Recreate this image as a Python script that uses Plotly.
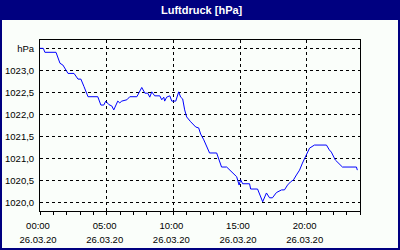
import plotly.graph_objects as go

DAY = "2020-03-26"
NEXT_DAY = "2020-03-27"

times = ["00:00", "00:15", "00:22", "01:12", "01:30", "01:43", "02:06", "02:33", "02:51", "03:04",
         "03:18", "03:36", "04:20", "04:34", "04:47", "04:56", "05:10", "05:23", "05:32", "05:50",
         "05:59", "06:08", "06:31", "06:44", "07:16", "07:38", "07:52", "08:05", "08:14", "08:23",
         "08:36", "08:59", "09:08", "09:17", "09:21", "09:30", "09:44", "09:53", "10:11", "10:24",
         "10:33", "10:42", "10:51", "11:00", "11:18", "11:41", "11:54", "12:03", "12:17", "12:43",
         "13:15", "13:37", "14:00", "14:22", "14:45", "14:56", "15:03", "15:12", "15:43", "15:48",
         "16:19", "16:42", "16:59", "17:13", "17:26", "17:44", "18:07", "18:20", "18:34", "18:47",
         "19:01", "19:14", "19:28", "19:41", "19:59", "20:13", "20:35", "21:29", "21:42", "21:51",
         "22:09", "22:23", "22:41", "23:44", "23:48"]

pressure = [1023.50, 1023.50, 1023.41, 1023.41, 1023.16, 1023.12, 1022.93, 1022.93, 1022.80, 1022.80,
            1022.63, 1022.40, 1022.40, 1022.21, 1022.21, 1022.30, 1022.22, 1022.19, 1022.10, 1022.30,
            1022.26, 1022.30, 1022.33, 1022.40, 1022.40, 1022.61, 1022.48, 1022.48, 1022.39, 1022.51,
            1022.42, 1022.42, 1022.33, 1022.39, 1022.30, 1022.39, 1022.42, 1022.30, 1022.30, 1022.51,
            1022.39, 1022.35, 1022.10, 1021.94, 1021.83, 1021.71, 1021.69, 1021.55, 1021.42, 1021.12,
            1021.12, 1020.80, 1020.80, 1020.69, 1020.58, 1020.39, 1020.51, 1020.42, 1020.42, 1020.30,
            1020.30, 1020.01, 1020.21, 1020.10, 1020.10, 1020.22, 1020.28, 1020.28, 1020.39, 1020.46,
            1020.51, 1020.62, 1020.73, 1020.89, 1021.07, 1021.23, 1021.30, 1021.30, 1021.19, 1021.14,
            1020.96, 1020.89, 1020.80, 1020.80, 1020.73]

x_tick_times = ["00:00", "05:00", "10:00", "15:00", "20:00"]
x_tick_dates = ["26.03.20"] * 5
y_tick_vals = [1020.0, 1020.5, 1021.0, 1021.5, 1022.0, 1022.5, 1023.0, 1023.5]
y_tick_text = ["1020,0", "1020,5", "1021,0", "1021,5", "1022,0", "1022,5", "1023,0", "hPa"]
y_range = [1019.80, 1023.69]
title_text = "Luftdruck [hPa]"

NAVY = "#000080"
BG = "#FAFEFA"
W, H = 400, 250
ML, MR, MT, MB = 40, 40, 40, 39
PW, PH = W - ML - MR, H - MT - MB


def px_x(x):
    return (x - ML) / PW


def px_y(y):
    return (H - MB - y) / PH


xs = [f"{DAY} {t}" for t in times]
tickvals = [f"{DAY} {t}" for t in x_tick_times]
x_range = [f"{DAY} 00:00", f"{NEXT_DAY} 00:00"]

FONT = dict(family="Liberation Sans, Arial, sans-serif", size=9.5, color="black")

fig = go.Figure()
fig.add_trace(go.Scatter(x=xs, y=pressure, mode="lines",
                         line=dict(color="#0000FF", width=1), hoverinfo="skip", showlegend=False))
fig.add_trace(go.Scatter(x=x_range, y=[None, None], xaxis="x2", mode="lines",
                         hoverinfo="skip", showlegend=False))

fig.update_layout(
    width=W, height=H,
    margin=dict(l=ML, r=MR, t=MT, b=MB, autoexpand=False),
    paper_bgcolor=NAVY,
    plot_bgcolor=BG,
    font=FONT,
    showlegend=False,
    xaxis=dict(
        type="date", range=x_range, automargin=False,
        tickvals=tickvals, ticktext=x_tick_times,
        ticks="outside", ticklen=3, tickcolor="black", tickwidth=1,
        minor=dict(dtick=3600000, ticks="outside", ticklen=3, tickcolor="black", showgrid=False),
        showgrid=True, gridcolor="black", gridwidth=1, griddash="3px,3px",
        showline=True, linecolor="black", linewidth=1, mirror=True,
        ticklabelstandoff=3, ticklabelshift=-2, tickfont=FONT,
        zeroline=False, fixedrange=True,
    ),
    xaxis2=dict(
        type="date", range=x_range, overlaying="x", side="bottom", anchor="y", automargin=False,
        tickvals=tickvals, ticktext=x_tick_dates,
        ticks="", showgrid=False, showline=False, zeroline=False,
        ticklabelstandoff=21, ticklabelshift=-2, tickfont=FONT, fixedrange=True,
    ),
    yaxis=dict(
        range=y_range, tickvals=y_tick_vals, ticktext=y_tick_text, automargin=False,
        ticks="", showgrid=True, gridcolor="black", gridwidth=1, griddash="3px,3px",
        showline=True, linecolor="black", linewidth=1, mirror=True,
        ticklabelstandoff=3,
        zeroline=False, tickfont=FONT, fixedrange=True,
    ),
    shapes=[dict(type="rect", xref="paper", yref="paper",
                 x0=px_x(2), x1=px_x(398), y0=px_y(248), y1=px_y(20),
                 fillcolor=BG, line=dict(width=0), layer="below")],
    annotations=[dict(text=f"<b>{title_text}</b>", xref="paper", yref="paper",
                      x=px_x(202), y=px_y(9.5), xanchor="center", yanchor="middle",
                      showarrow=False,
                      font=dict(family="Liberation Sans, Arial, sans-serif", size=11, color="white"))],
)

fig.write_html("out.html", config={"displayModeBar": False})
